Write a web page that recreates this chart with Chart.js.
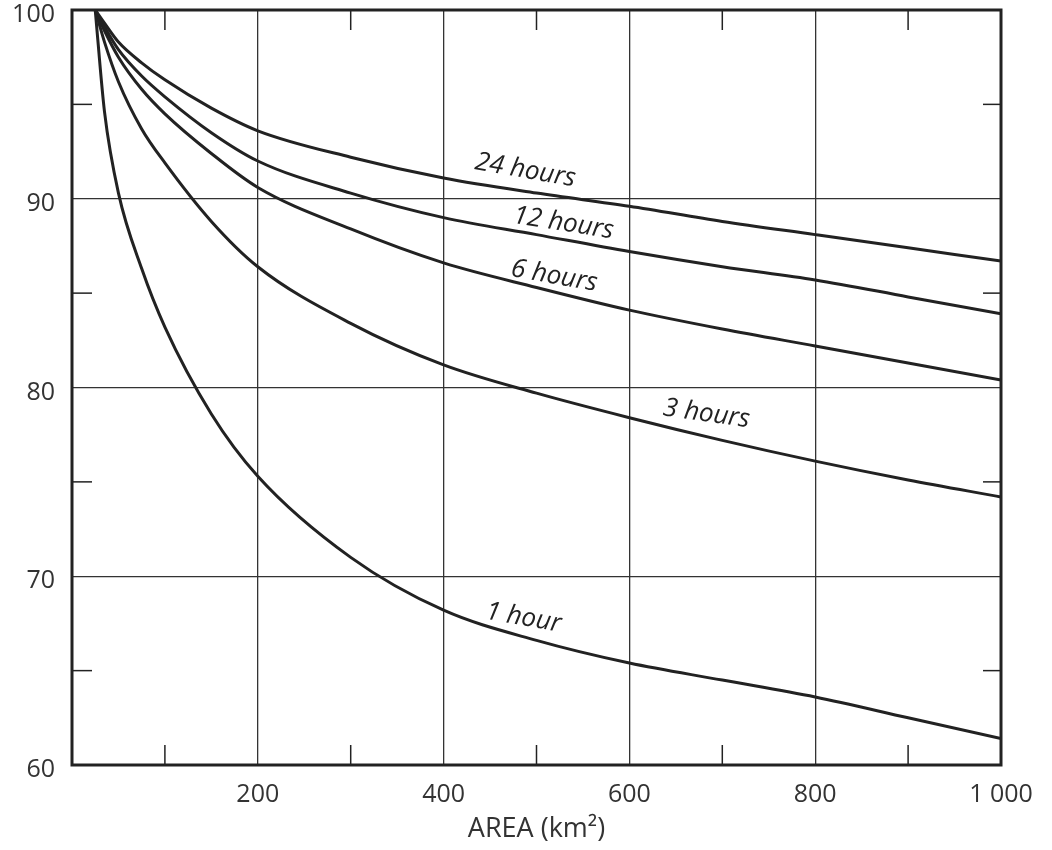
<!DOCTYPE html>
<html>
<head>
<meta charset="utf-8">
<script src="https://cdn.jsdelivr.net/npm/chart.js@4.4.1/dist/chart.umd.min.js"></script>
<style>
  body { margin: 0; background: #fff; }
  canvas { display: block; }
</style>
</head>
<body>
<canvas id="grafico" width="1052" height="850"></canvas>
<script>
// --- DADOS ---
const areas = [25, 35, 50, 75, 100, 150, 200, 300, 400, 500, 600, 700, 800, 900, 1000];
const h24 = [100, 99.3, 98.3, 97.2, 96.3, 94.8, 93.6, 92.2, 91.1, 90.3, 89.6, 88.8, 88.1, 87.4, 86.7];
const h12 = [100, 99.1, 97.9, 96.5, 95.4, 93.5, 92.0, 90.3, 89.0, 88.1, 87.2, 86.4, 85.7, 84.8, 83.9];
const h6  = [100, 98.9, 97.5, 95.8, 94.5, 92.4, 90.6, 88.4, 86.6, 85.3, 84.1, 83.1, 82.2, 81.3, 80.4];
const h3  = [100, 98.3, 96.2, 93.7, 91.9, 88.8, 86.4, 83.4, 81.2, 79.7, 78.4, 77.2, 76.1, 75.1, 74.2];
const h1  = [100, 94.6, 90.3, 86.3, 83.2, 78.6, 75.3, 71.0, 68.2, 66.6, 65.4, 64.5, 63.6, 62.5, 61.4];

const curveNames = ['24 hours', '12 hours', '6 hours', '3 hours', '1 hour'];
const curveValues = [h24, h12, h6, h3, h1];

const xTicks = [0, 200, 400, 600, 800, 1000];
const xTickLabels = ['', '200', '400', '600', '800', '1 000'];
const yTicks = [60, 70, 80, 90, 100];
const xMinor = [100, 300, 500, 700, 900];
const yMinor = [65, 75, 85, 95];
const xTitle = 'AREA (km²)';

// posição dos rótulos das curvas, em unidades de dados
const labelArea = [488, 529, 519, 683, 486];
const labelPct = [91.5, 88.7, 85.9, 78.6, 67.8];
const labelAngle = [10, 9, 10, 8, 10];

const INK = '#222';
const FONTE = '"Open Sans", "DejaVu Sans", sans-serif';

// --- PLUGIN: moldura, ticks internos e rótulos ---
const moldura = {
    id: 'moldura',
    afterDatasetsDraw(chart) {
        const { ctx, chartArea: a, scales: { x, y } } = chart;
        ctx.save();
        ctx.strokeStyle = INK;
        ctx.lineWidth = 1.5;
        const linha = (x1, y1, x2, y2) => {
            ctx.beginPath(); ctx.moveTo(x1, y1); ctx.lineTo(x2, y2); ctx.stroke();
        };
        xMinor.forEach(v => {
            const px = x.getPixelForValue(v);
            linha(px, a.bottom, px, a.bottom - 20);
            linha(px, a.top, px, a.top + 20);
        });
        yMinor.forEach(v => {
            const py = y.getPixelForValue(v);
            linha(a.left, py, a.left + 20, py);
            linha(a.right, py, a.right - 18, py);
        });
        ctx.lineWidth = 3;
        ctx.strokeRect(a.left, a.top, a.width, a.height);

        ctx.fillStyle = INK;
        ctx.font = 'italic 26px ' + FONTE;
        ctx.textAlign = 'center';
        ctx.textBaseline = 'middle';
        curveNames.forEach((nome, i) => {
            ctx.save();
            ctx.translate(x.getPixelForValue(labelArea[i]), y.getPixelForValue(labelPct[i]));
            ctx.rotate(labelAngle[i] * Math.PI / 180);
            ctx.fillText(nome, 0, 0);
            ctx.restore();
        });
        ctx.restore();
    }
};

const datasets = curveValues.map((vals, i) => ({
    label: curveNames[i],
    data: areas.map((a, j) => ({ x: a, y: vals[j] })),
    borderColor: INK,
    borderWidth: 3,
    pointRadius: 0,
    fill: false,
    cubicInterpolationMode: 'monotone'
}));

new Chart(document.getElementById('grafico').getContext('2d'), {
    type: 'line',
    data: { datasets },
    plugins: [moldura],
    options: {
        responsive: false,
        animation: false,
        layout: { padding: { top: 10, right: 51, left: 0, bottom: 0 } },
        plugins: { legend: { display: false }, tooltip: { enabled: false } },
        scales: {
            x: {
                type: 'linear',
                min: 0,
                max: 1000,
                afterBuildTicks: s => { s.ticks = xTicks.map(v => ({ value: v })); },
                afterFit: s => { s.height = 85; s.paddingLeft = 0; s.paddingRight = 0; },
                ticks: {
                    color: '#333',
                    font: { family: FONTE, size: 25 },
                    padding: 15,
                    maxRotation: 0,
                    callback: v => xTickLabels[xTicks.indexOf(v)]
                },
                grid: { color: '#333', lineWidth: 1.3, drawTicks: false },
                border: { display: false },
                title: {
                    display: true,
                    text: xTitle,
                    color: '#333',
                    font: { family: FONTE, size: 27 },
                    padding: { top: 0, bottom: 4 }
                }
            },
            y: {
                min: 60,
                max: 100,
                afterBuildTicks: s => { s.ticks = yTicks.map(v => ({ value: v })); },
                afterFit: s => { s.width = 72; s.paddingTop = 0; s.paddingBottom = 0; },
                ticks: {
                    color: '#333',
                    font: { family: FONTE, size: 25 },
                    padding: 17,
                    labelOffset: 5
                },
                grid: { color: '#333', lineWidth: 1.3, drawTicks: false },
                border: { display: false }
            }
        }
    }
});
</script>
</body>
</html>
